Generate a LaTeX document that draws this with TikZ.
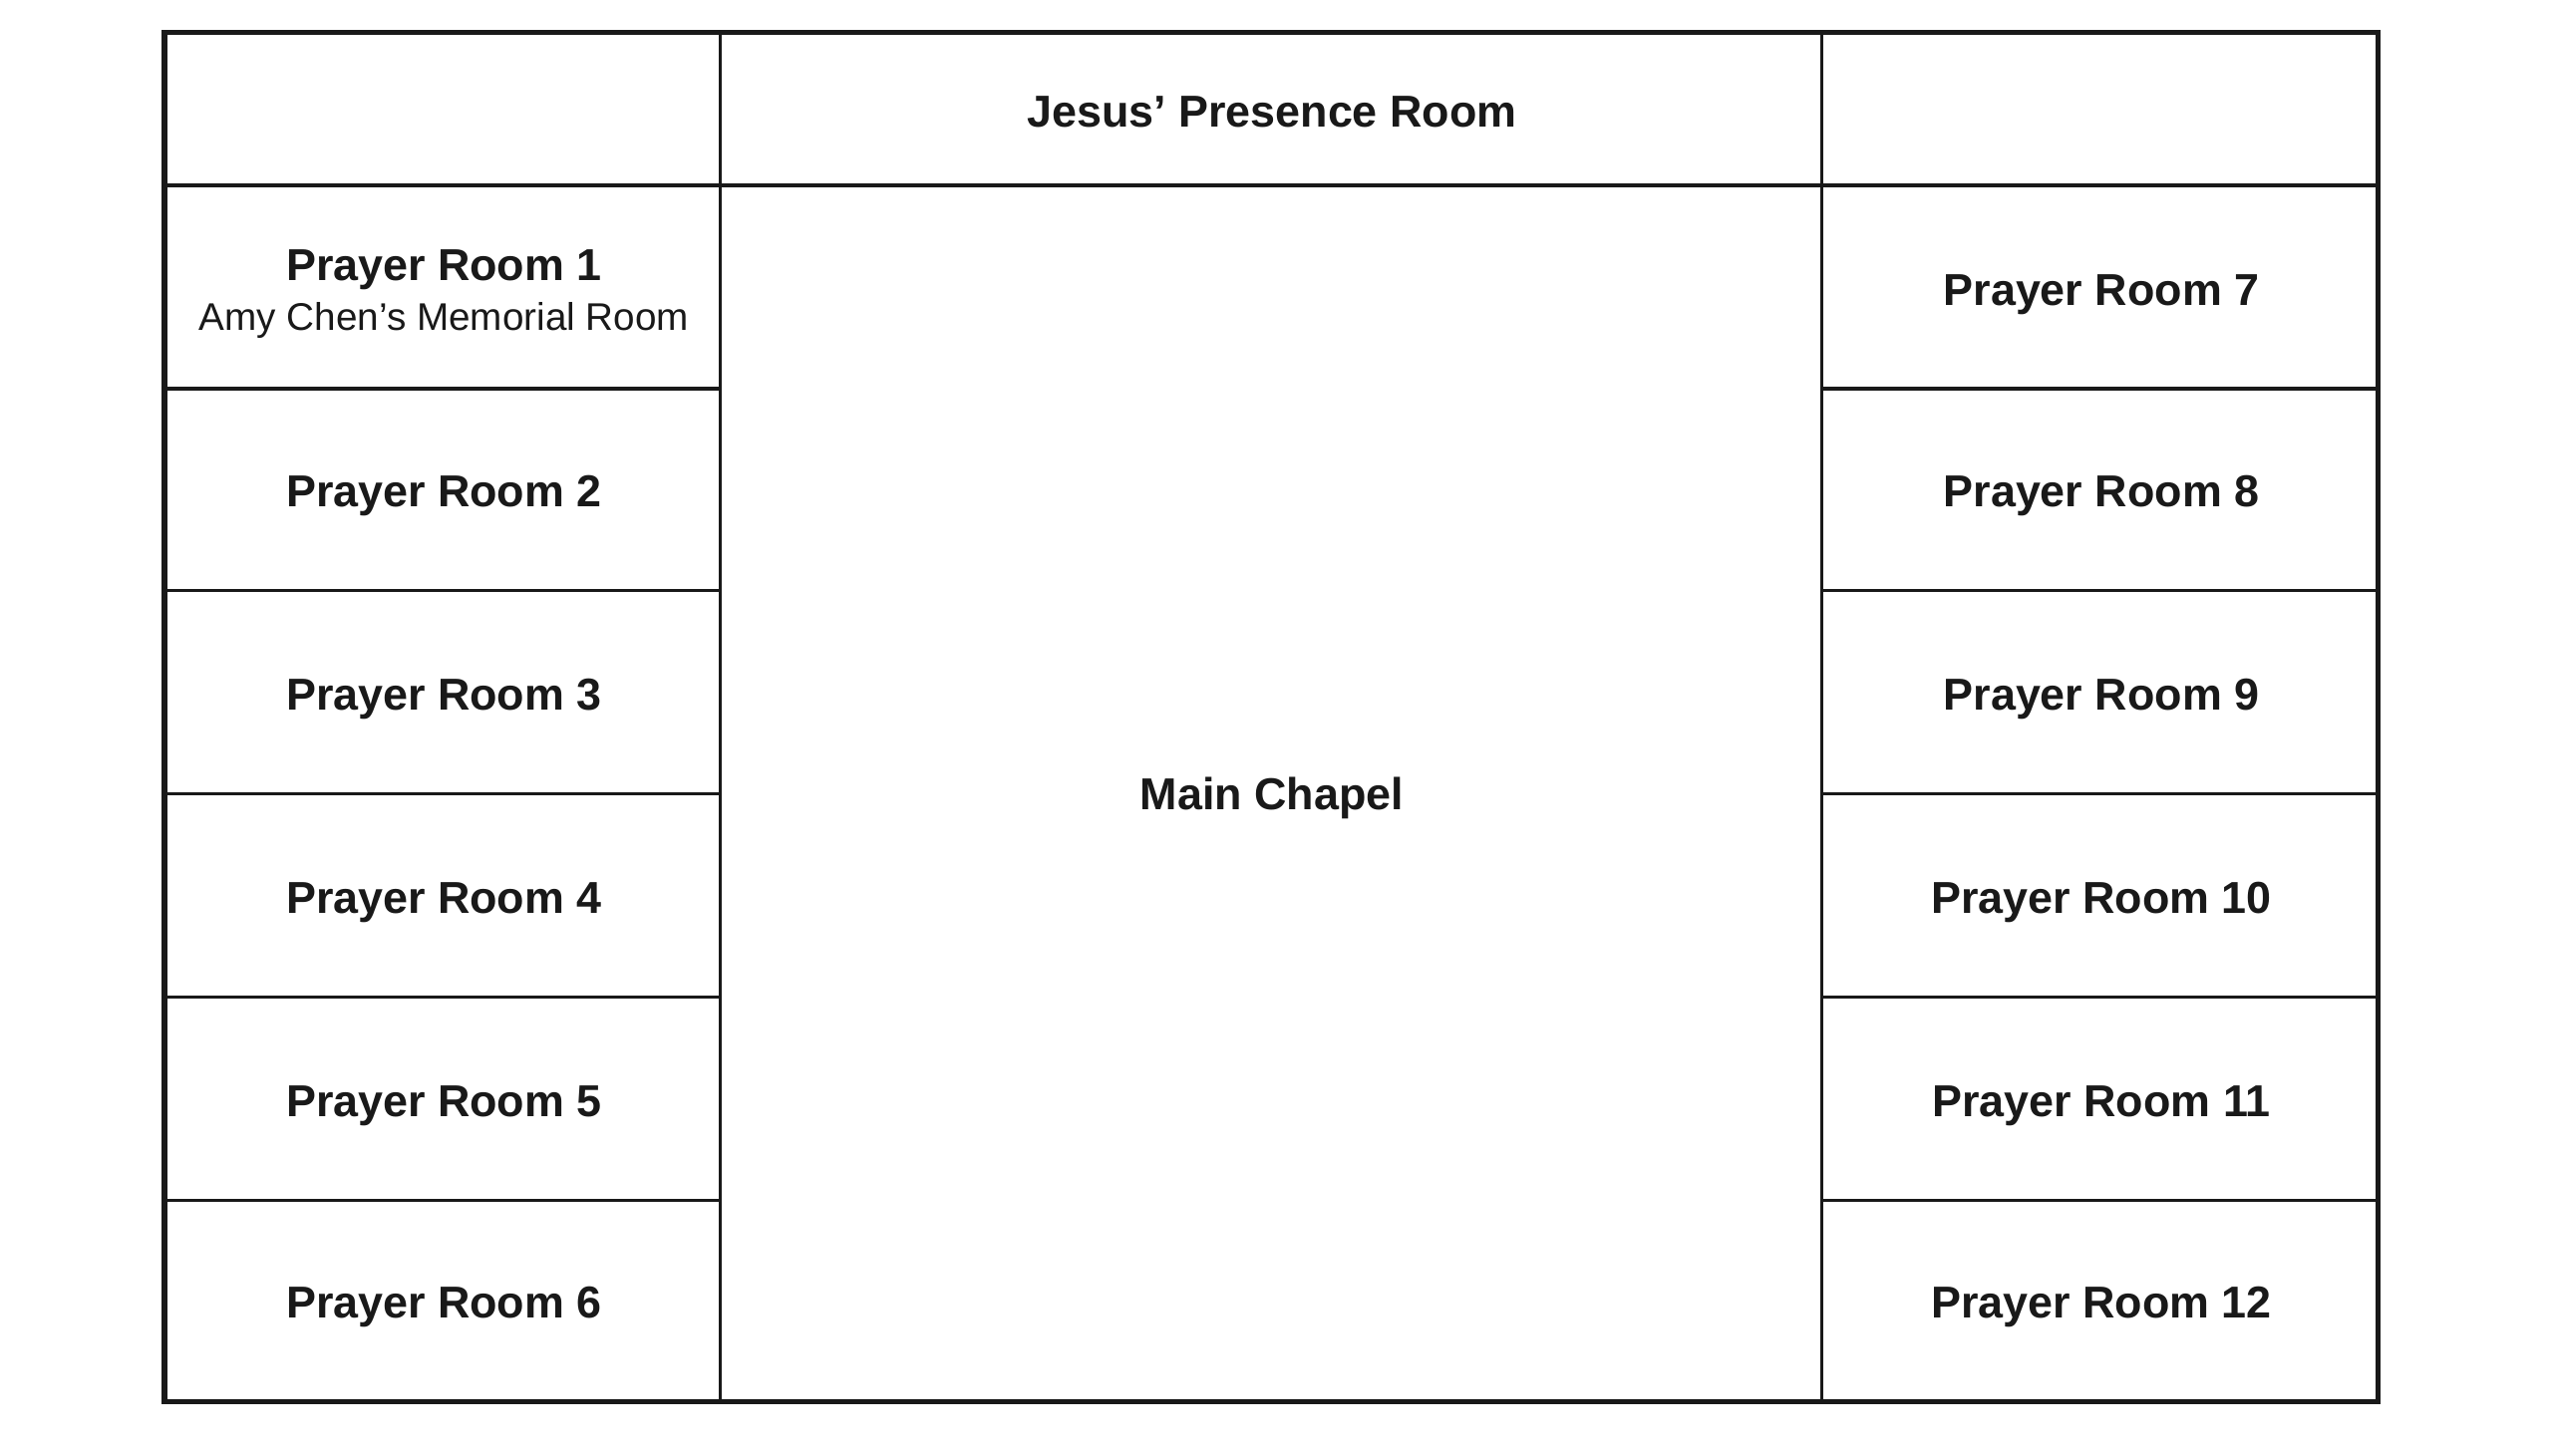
\documentclass[tikz,border=0pt]{standalone}
\usepackage{fontspec}
\setmainfont{Liberation Sans}
\begin{document}
\begin{tikzpicture}[x=1pt,y=-1pt,
  inner/.style={line width=2pt,draw=black!90},
  lbl/.style={font=\fontsize{27.5}{32}\selectfont\bfseries,text=black!90},
  sub/.style={font=\fontsize{23.7}{28}\selectfont,text=black!90}]
\useasboundingbox (0,0) rectangle (1569,895);
\fill[white] (0,0) rectangle (1569,895);
% inner lines
\draw[inner] (443,20) -- (443,862);
\draw[inner] (1120,20) -- (1120,862);
\draw[inner] (101,114) -- (1462,114);
\foreach \y in {239,363,488,613,738}{
  \draw[inner] (101,\y) -- (443,\y);
  \draw[inner] (1120,\y) -- (1462,\y);
}
\draw[line width=3.5pt,draw=black!90] (101,20) rectangle (1462,862);
\node[lbl] (jp) at (782,69) {Jesus’ Presence Room};
\node[lbl] (mc) at (782,491) {Main Chapel};
\node[lbl] (p1) at (273,166) {Prayer Room 1};
\node[sub] (p1s) at (273,197) {Amy Chen’s Memorial Room};
\foreach \i/\y in {2/305,3/430,4/555,5/680,6/804}{
  \node[lbl] (p\i) at (273,\y) {Prayer Room \i};
}
\foreach \i/\y in {7/181,8/305,9/430,10/555,11/680,12/804}{
  \node[lbl] (p\i) at (1292,\y) {Prayer Room \i};
}
\end{tikzpicture}
\end{document}
